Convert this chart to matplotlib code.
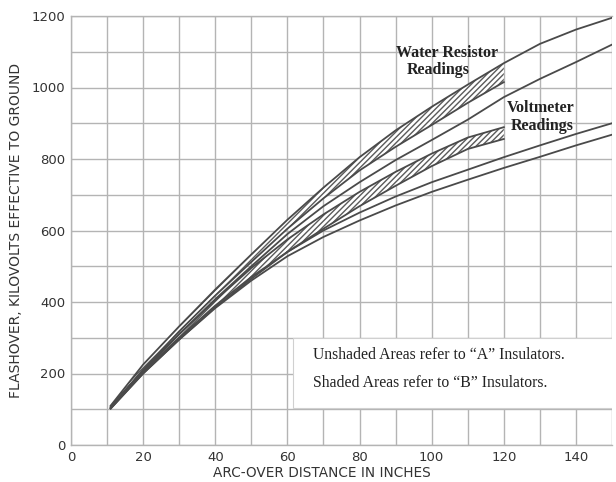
import numpy as np
import matplotlib
matplotlib.use("Agg")
import matplotlib.pyplot as plt
from matplotlib.patches import Rectangle

# --- data (arc-over distance in inches vs kV) ---
x_long = [11, 20, 30, 40, 50, 60, 70, 80, 90, 100, 110, 120, 130, 140, 150]
x_short = [11, 20, 30, 40, 50, 60, 70, 80, 90, 100, 110, 120]

# water resistor readings
wr_top = [110, 225, 332, 435, 533, 630, 720, 805, 880, 946, 1008, 1068, 1122, 1162, 1195]
wr_b_low = [105, 210, 318, 418, 512, 605, 690, 768, 834, 895, 957, 1015]
wr_a_low = [103, 205, 310, 408, 500, 590, 668, 735, 797, 853, 910, 973, 1024, 1071, 1120]

# voltmeter readings
vm_b_top = [108, 210, 310, 405, 495, 575, 645, 708, 764, 815, 860, 889]
vm_b_low = [102, 200, 295, 385, 465, 540, 605, 668, 725, 780, 828, 856]
vm_a_up = [104, 205, 300, 390, 470, 540, 600, 650, 695, 735, 770, 805, 838, 870, 900]
vm_a_low = [102, 200, 295, 383, 460, 528, 582, 628, 670, 708, 742, 775, 806, 838, 868]

line_col = "#4a4a4a"
grid_col = "#b4b4b4"
text_col = "#222222"

fig = plt.figure(figsize=(6.16, 4.82), dpi=100)
ax = fig.add_axes([71 / 616, 1 - 445 / 482, 541 / 616, 429 / 482])

ax.set_xlim(0, 150)
ax.set_ylim(0, 1200)
ax.set_xticks(np.arange(0, 151, 10))
ax.set_yticks(np.arange(0, 1201, 100))
ax.set_xticklabels([str(v) if v % 20 == 0 else "" for v in range(0, 151, 10)])
ax.set_yticklabels([str(v) if v % 200 == 0 else "" for v in range(0, 1201, 100)])
ax.tick_params(length=0, labelsize=9.5, colors="#333333", pad=4)
ax.grid(True, color=grid_col, linewidth=1.0)
ax.set_axisbelow(True)
for s in ax.spines.values():
    s.set_color(grid_col)
    s.set_linewidth(1.0)
ax.spines["right"].set_visible(False)

# hatched "B" bands
ax.fill_between(x_short, wr_b_low, wr_top[:len(x_short)], facecolor="white",
                edgecolor="#5a5a5a", hatch="//////", linewidth=0, zorder=2)
ax.fill_between(x_short, vm_b_low, vm_b_top, facecolor="white",
                edgecolor="#5a5a5a", hatch="//////", linewidth=0, zorder=2)

for xs, ys in [(x_long, wr_top), (x_short, wr_b_low), (x_long, wr_a_low),
               (x_short, vm_b_top), (x_short, vm_b_low), (x_long, vm_a_up),
               (x_long, vm_a_low)]:
    ax.plot(xs, ys, color=line_col, linewidth=1.3, zorder=3)

lab = dict(family="Liberation Serif", fontweight="bold", fontsize=11.5,
           ha="center", va="center", color=text_col, zorder=4)
ax.text(104.2, 1096, "Water Resistor", **lab)
ax.text(101.8, 1050, "Readings", **lab)
ax.text(130.1, 944, "Voltmeter", **lab)
ax.text(130.6, 892, "Readings", **lab)

# note box
ax.add_patch(Rectangle((61.5, 103), 89, 197, facecolor="white",
                       edgecolor="#d0d0d0", linewidth=0.8, zorder=4))
ax.text(67, 252, "Unshaded Areas refer to \u201cA\u201d Insulators.",
        family="Liberation Serif", fontsize=11.3, color=text_col, va="center", zorder=5)
ax.text(67, 174, "Shaded Areas refer to \u201cB\u201d Insulators.",
        family="Liberation Serif", fontsize=11.3, color=text_col, va="center", zorder=5)

ax.set_xlabel("ARC-OVER DISTANCE IN INCHES", fontsize=9.8, color="#333333")
ax.xaxis.set_label_coords((322 - 71) / 541, -0.05)
ax.set_ylabel("FLASHOVER, KILOVOLTS EFFECTIVE TO GROUND", fontsize=10,
              color="#333333", labelpad=6)

fig.savefig("out.png", dpi=100)
